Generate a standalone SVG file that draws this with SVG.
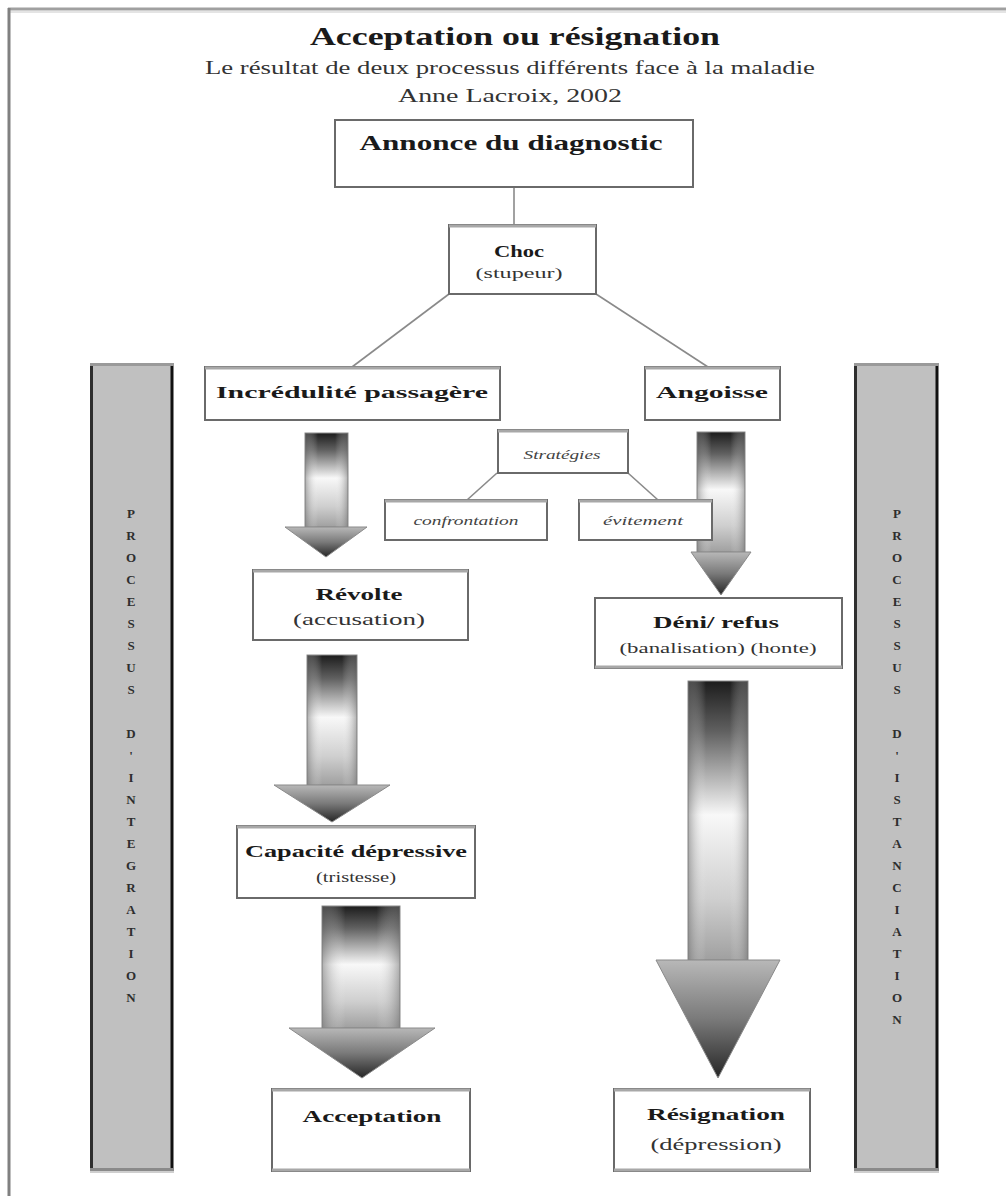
<svg xmlns="http://www.w3.org/2000/svg" width="1006" height="1196" viewBox="0 0 1006 1196">
<style>
text{font-family:"Liberation Serif","Times New Roman",serif;fill:#1a1a1a}
.t{font-weight:bold}
.it{font-style:italic;fill:#444}
.sub{fill:#333}
.box{fill:#fff;stroke:#6a6a6a;stroke-width:2}
.edge{stroke:#a8a8a8;stroke-width:3}
.con{stroke:#8a8a8a;stroke-width:1.6;fill:none}
.bar{fill:#c0c0c0}
.bl{fill:#2e2e2e;font-weight:bold;font-size:13px;text-anchor:middle}
.shaft{fill:url(#gShaft);stroke:#8a8a8a;stroke-width:1}
.head{fill:url(#gHead);stroke:#8a8a8a;stroke-width:1}
.side{fill:url(#gSide)}
</style>
<defs>
<linearGradient id="gShaft" x1="0" y1="0" x2="0" y2="1">
<stop offset="0" stop-color="#1c1c1c"/>
<stop offset="0.18" stop-color="#606060"/>
<stop offset="0.48" stop-color="#f8f8f8"/>
<stop offset="0.78" stop-color="#cfcfcf"/>
<stop offset="1" stop-color="#a0a0a0"/>
</linearGradient>
<linearGradient id="gHead" x1="0" y1="0" x2="0" y2="1">
<stop offset="0" stop-color="#b8b8b8"/>
<stop offset="0.5" stop-color="#7a7a7a"/>
<stop offset="1" stop-color="#262626"/>
</linearGradient>
<linearGradient id="gSide" x1="0" y1="0" x2="1" y2="0">
<stop offset="0" stop-color="#707070" stop-opacity="0.55"/>
<stop offset="0.3" stop-color="#ffffff" stop-opacity="0"/>
<stop offset="0.7" stop-color="#ffffff" stop-opacity="0"/>
<stop offset="1" stop-color="#707070" stop-opacity="0.55"/>
</linearGradient>
</defs>

<rect width="1006" height="1196" fill="#fff"/>
<g id="frame">
<line x1="8" y1="9" x2="1006" y2="9" stroke="#a0a0a0" stroke-width="3"/>
<line x1="10" y1="12" x2="1006" y2="12" stroke="#e4e4e4" stroke-width="2"/>
<line x1="9" y1="8" x2="9" y2="1196" stroke="#808080" stroke-width="3"/>
</g>

<g id="title">
<text class="t" x="310" y="45" font-size="25" textLength="410" lengthAdjust="spacingAndGlyphs">Acceptation ou résignation</text>
<text class="sub" x="205" y="74" font-size="18" textLength="610" lengthAdjust="spacingAndGlyphs">Le résultat de deux processus différents face à la maladie</text>
<text class="sub" x="398" y="102" font-size="18" textLength="224" lengthAdjust="spacingAndGlyphs">Anne Lacroix, 2002</text>
</g>

<g id="bar-integration">
<rect class="bar" x="91" y="363" width="82" height="808"/>
<line x1="91.5" y1="363" x2="91.5" y2="1171" stroke="#2e2e2e" stroke-width="3"/>
<line x1="172" y1="363" x2="172" y2="1171" stroke="#111" stroke-width="3"/>
<line x1="90" y1="364.5" x2="174" y2="364.5" stroke="#9a9a9a" stroke-width="3"/>
<line x1="90" y1="1169.5" x2="174" y2="1169.5" stroke="#8a8a8a" stroke-width="3"/>
<line x1="90" y1="1172" x2="174" y2="1172" stroke="#cfcfcf" stroke-width="2"/>
<text class="bl"><tspan x="131" y="518">P</tspan><tspan x="131" dy="22">R</tspan><tspan x="131" dy="22">O</tspan><tspan x="131" dy="22">C</tspan><tspan x="131" dy="22">E</tspan><tspan x="131" dy="22">S</tspan><tspan x="131" dy="22">S</tspan><tspan x="131" dy="22">U</tspan><tspan x="131" dy="22">S</tspan><tspan x="131" dy="44">D</tspan><tspan x="131" dy="22">'</tspan><tspan x="131" dy="22">I</tspan><tspan x="131" dy="22">N</tspan><tspan x="131" dy="22">T</tspan><tspan x="131" dy="22">E</tspan><tspan x="131" dy="22">G</tspan><tspan x="131" dy="22">R</tspan><tspan x="131" dy="22">A</tspan><tspan x="131" dy="22">T</tspan><tspan x="131" dy="22">I</tspan><tspan x="131" dy="22">O</tspan><tspan x="131" dy="22">N</tspan></text>
</g>

<g id="bar-distanciation">
<rect class="bar" x="855" y="363" width="83" height="808"/>
<line x1="855.5" y1="363" x2="855.5" y2="1171" stroke="#2e2e2e" stroke-width="3"/>
<line x1="937" y1="363" x2="937" y2="1171" stroke="#111" stroke-width="3"/>
<line x1="854" y1="364.5" x2="939" y2="364.5" stroke="#9a9a9a" stroke-width="3"/>
<line x1="854" y1="1169.5" x2="939" y2="1169.5" stroke="#8a8a8a" stroke-width="3"/>
<line x1="854" y1="1172" x2="939" y2="1172" stroke="#cfcfcf" stroke-width="2"/>
<text class="bl"><tspan x="897" y="518">P</tspan><tspan x="897" dy="22">R</tspan><tspan x="897" dy="22">O</tspan><tspan x="897" dy="22">C</tspan><tspan x="897" dy="22">E</tspan><tspan x="897" dy="22">S</tspan><tspan x="897" dy="22">S</tspan><tspan x="897" dy="22">U</tspan><tspan x="897" dy="22">S</tspan><tspan x="897" dy="44">D</tspan><tspan x="897" dy="22">'</tspan><tspan x="897" dy="22">I</tspan><tspan x="897" dy="22">S</tspan><tspan x="897" dy="22">T</tspan><tspan x="897" dy="22">A</tspan><tspan x="897" dy="22">N</tspan><tspan x="897" dy="22">C</tspan><tspan x="897" dy="22">I</tspan><tspan x="897" dy="22">A</tspan><tspan x="897" dy="22">T</tspan><tspan x="897" dy="22">I</tspan><tspan x="897" dy="22">O</tspan><tspan x="897" dy="22">N</tspan></text>
</g>

<g id="connectors">
<line class="con" x1="514" y1="187" x2="514" y2="225"/>
<line class="con" x1="449" y1="294" x2="352" y2="367"/>
<line class="con" x1="596" y1="294" x2="708" y2="367"/>
<line class="con" x1="497" y1="473" x2="467" y2="500"/>
<line class="con" x1="628" y1="473" x2="658" y2="500"/>
<g id="arrow-incredulite-revolte">
<rect class="shaft" x="305" y="433" width="43" height="94"/>
<rect class="side" x="305" y="433" width="43" height="94"/>
<polygon class="head" points="285,527 367,527 326,557"/>
</g>
<g id="arrow-revolte-capacite">
<rect class="shaft" x="307" y="655" width="50" height="130"/>
<rect class="side" x="307" y="655" width="50" height="130"/>
<polygon class="head" points="274,785 390,785 332,822"/>
</g>
<g id="arrow-capacite-acceptation">
<rect class="shaft" x="322" y="906" width="78" height="122"/>
<rect class="side" x="322" y="906" width="78" height="122"/>
<polygon class="head" points="289,1028 435,1028 362,1078"/>
</g>
<g id="arrow-angoisse-deni">
<rect class="shaft" x="697" y="432" width="48" height="120"/>
<rect class="side" x="697" y="432" width="48" height="120"/>
<polygon class="head" points="691,552 751,552 721,595"/>
</g>
<g id="arrow-deni-resignation">
<rect class="shaft" x="688" y="681" width="60" height="279"/>
<rect class="side" x="688" y="681" width="60" height="279"/>
<polygon class="head" points="656,960 780,960 718,1078"/>
</g>
</g>

<g id="node-annonce">
<rect class="box" x="335" y="120" width="358" height="67"/>
<text class="t" x="511" y="150" font-size="22" text-anchor="middle" textLength="303" lengthAdjust="spacingAndGlyphs">Annonce du diagnostic</text>
</g>
<g id="node-choc">
<rect class="box" x="449" y="225" width="147" height="69"/>
<line class="edge" x1="449" y1="226" x2="596" y2="226"/>
<text class="t" x="519" y="257" font-size="16" text-anchor="middle" textLength="50" lengthAdjust="spacingAndGlyphs">Choc</text>
<text class="sub" x="519" y="278" font-size="15" text-anchor="middle" textLength="87" lengthAdjust="spacingAndGlyphs">(stupeur)</text>
</g>
<g id="node-incredulite">
<rect class="box" x="205" y="367" width="295" height="53"/>
<line class="edge" x1="205" y1="368" x2="500" y2="368"/>
<text class="t" x="352" y="398" font-size="17" text-anchor="middle" textLength="272" lengthAdjust="spacingAndGlyphs">Incrédulité passagère</text>
</g>
<g id="node-angoisse">
<rect class="box" x="645" y="367" width="135" height="53"/>
<line class="edge" x1="645" y1="368" x2="780" y2="368"/>
<text class="t" x="712" y="398" font-size="17" text-anchor="middle" textLength="112" lengthAdjust="spacingAndGlyphs">Angoisse</text>
</g>
<g id="node-strategies">
<rect class="box" x="498" y="430" width="130" height="43"/>
<line class="edge" x1="498" y1="431" x2="628" y2="431"/>
<text class="it" x="562" y="459" font-size="13" text-anchor="middle" textLength="77" lengthAdjust="spacingAndGlyphs">Stratégies</text>
</g>
<g id="node-confrontation">
<rect class="box" x="385" y="500" width="162" height="40"/>
<line class="edge" x1="385" y1="501" x2="547" y2="501"/>
<text class="it" x="466" y="525" font-size="13" text-anchor="middle" textLength="105" lengthAdjust="spacingAndGlyphs">confrontation</text>
</g>
<g id="node-evitement">
<rect class="box" x="579" y="500" width="133" height="40"/>
<line class="edge" x1="579" y1="501" x2="712" y2="501"/>
<text class="it" x="643" y="525" font-size="13" text-anchor="middle" textLength="80" lengthAdjust="spacingAndGlyphs">évitement</text>
</g>
<g id="node-revolte">
<rect class="box" x="253" y="570" width="215" height="70"/>
<line class="edge" x1="253" y1="571" x2="468" y2="571"/>
<text class="t" x="359" y="600" font-size="17" text-anchor="middle" textLength="87" lengthAdjust="spacingAndGlyphs">Révolte</text>
<text class="sub" x="359" y="625" font-size="16" text-anchor="middle" textLength="132" lengthAdjust="spacingAndGlyphs">(accusation)</text>
</g>
<g id="node-deni">
<rect class="box" x="595" y="598" width="247" height="70"/>
<line class="edge" x1="595" y1="667" x2="842" y2="667"/>
<text class="t" x="716" y="628" font-size="17" text-anchor="middle" textLength="126" lengthAdjust="spacingAndGlyphs">Déni/ refus</text>
<text class="sub" x="718" y="653" font-size="15" text-anchor="middle" textLength="197" lengthAdjust="spacingAndGlyphs">(banalisation) (honte)</text>
</g>
<g id="node-capacite">
<rect class="box" x="237" y="826" width="238" height="72"/>
<line class="edge" x1="237" y1="827" x2="475" y2="827"/>
<text class="t" x="356" y="857" font-size="17" text-anchor="middle" textLength="222" lengthAdjust="spacingAndGlyphs">Capacité dépressive</text>
<text class="sub" x="356" y="882" font-size="15" text-anchor="middle" textLength="80" lengthAdjust="spacingAndGlyphs">(tristesse)</text>
</g>
<g id="node-acceptation">
<rect class="box" x="272" y="1089" width="198" height="82"/>
<line class="edge" x1="272" y1="1090" x2="470" y2="1090"/>
<line class="edge" x1="272" y1="1170" x2="470" y2="1170"/>
<text class="t" x="372" y="1122" font-size="17" text-anchor="middle" textLength="139" lengthAdjust="spacingAndGlyphs">Acceptation</text>
</g>
<g id="node-resignation">
<rect class="box" x="614" y="1089" width="196" height="82"/>
<line class="edge" x1="614" y1="1090" x2="810" y2="1090"/>
<line class="edge" x1="614" y1="1170" x2="810" y2="1170"/>
<text class="t" x="716" y="1120" font-size="17" text-anchor="middle" textLength="138" lengthAdjust="spacingAndGlyphs">Résignation</text>
<text class="sub" x="716" y="1150" font-size="16" text-anchor="middle" textLength="131" lengthAdjust="spacingAndGlyphs">(dépression)</text>
</g>
</svg>
